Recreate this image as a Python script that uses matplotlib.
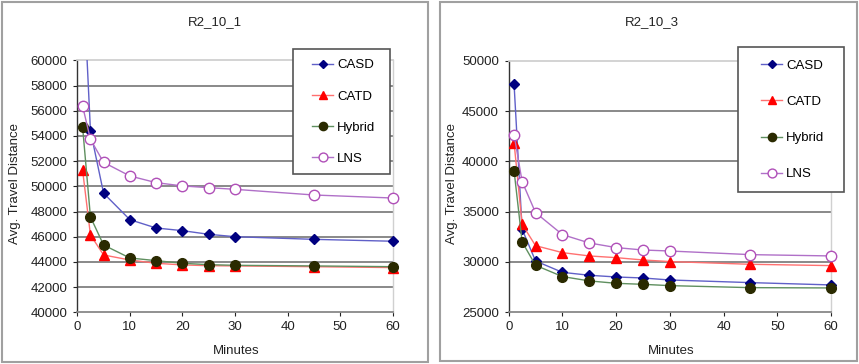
import matplotlib
matplotlib.use("Agg")
import matplotlib.pyplot as plt
from matplotlib.patches import Rectangle

plt.rcParams['font.family'] = ['Liberation Sans', 'DejaVu Sans']

minutes = [1, 2.5, 5, 10, 15, 20, 25, 30, 45, 60]

# R2_10_1
casd_1 = [67600, 54420, 49450, 47350, 46690, 46480, 46190, 46000, 45790, 45640]
catd_1 = [51300, 46140, 44550, 44150, 43890, 43760, 43700, 43680, 43620, 43550]
hybrid_1 = [54740, 47570, 45340, 44310, 44100, 43890, 43780, 43730, 43680, 43620]
lns_1 = [56380, 53730, 51900, 50820, 50290, 50030, 49890, 49760, 49310, 49070]

# R2_10_3
casd_3 = [47650, 33250, 30100, 28970, 28680, 28510, 28410, 28210, 27950, 27720]
catd_3 = [41850, 33740, 31620, 30930, 30600, 30430, 30200, 30040, 29770, 29640]
hybrid_3 = [39070, 31990, 29670, 28550, 28120, 27880, 27780, 27650, 27450, 27420]
lns_3 = [42650, 37980, 34900, 32720, 31890, 31430, 31190, 31090, 30730, 30600]

series_names = ['CASD', 'CATD', 'Hybrid', 'LNS']
titles = ['R2_10_1', 'R2_10_3']
xticks = [0, 10, 20, 30, 40, 50, 60]
yticks_1 = list(range(40000, 60001, 2000))
yticks_3 = list(range(25000, 50001, 5000))

W, H = 859, 364
fig = plt.figure(figsize=(W / 100, H / 100), dpi=100)
fig.patch.set_facecolor('white')

styles = [
    dict(color='#6060c8', marker='D', mfc='#000080', mec='#000080', ms=5.2),
    dict(color='#ff7070', marker='^', mfc='#ff0000', mec='#ff0000', ms=7.5),
    dict(color='#5f8f5f', marker='o', mfc='#2a2a00', mec='#2a2a00', ms=7),
    dict(color='#b070c8', marker='o', mfc='white', mec='#b050b8', ms=7.5, mew=1.0),
]


def fx(px):
    return px / W


def fy(py):
    return 1 - py / H


# panel frames
for (x0, y0, x1, y1) in [(2, 2, 428, 362), (440, 2, 857, 361)]:
    fig.patches.append(Rectangle((fx(x0), fy(y1)), fx(x1 - x0), (y1 - y0) / H,
                                 transform=fig.transFigure, fill=False,
                                 edgecolor='#a0a0a0', lw=1.5, zorder=0))

panels = [
    dict(data=[casd_1, catd_1, hybrid_1, lns_1], yticks=yticks_1, ylim=(40000, 60000),
         box=(77.3, 60.3, 392.7, 312.3), title_xy=(215, 22), ylab_xy=(15, 183),
         xlab_xy=(236, 351), frame=(293, 49, 390, 174), hx=312, cy=112, lspace=1.43),
    dict(data=[casd_3, catd_3, hybrid_3, lns_3], yticks=yticks_3, ylim=(25000, 50000),
         box=(508.7, 60.7, 831.0, 312.3), title_xy=(652, 22), ylab_xy=(452, 183),
         xlab_xy=(671, 351), frame=(738, 47, 844, 192), hx=761, cy=120, lspace=1.81),
]

FS = 9.5
for i, p in enumerate(panels):
    x0, y0, x1, y1 = p['box']
    ax = fig.add_axes([fx(x0), fy(y1), fx(x1 - x0), (y1 - y0) / H])
    ax.set_xlim(0, 60)
    ax.set_ylim(*p['ylim'])
    ax.set_xticks(xticks)
    ax.set_yticks(p['yticks'])
    ax.set_yticklabels([str(v) for v in p['yticks']])
    ax.tick_params(axis='both', labelsize=FS, colors='#222222', direction='out',
                   length=3, width=0.8)
    ax.tick_params(axis='y', pad=4)
    ax.tick_params(axis='x', pad=3)
    for t in p['yticks'][1:-1]:
        ax.axhline(t, color='#808080', lw=1.3, zorder=1)
    ax.spines['top'].set_color('#d0d0d0')
    ax.spines['top'].set_linewidth(1.3)
    ax.spines['right'].set_color('#d0d0d0')
    ax.spines['right'].set_linewidth(1.0)
    ax.spines['left'].set_color('#333333')
    ax.spines['left'].set_linewidth(1.0)
    ax.spines['bottom'].set_color('#888888')
    ax.spines['bottom'].set_linewidth(1.3)
    clip = Rectangle((-0.05, -0.05), 1.1, 1.05, transform=ax.transAxes,
                     visible=False)
    ax.add_patch(clip)
    handles = []
    for vals, st, name in zip(p['data'], styles, series_names):
        h, = ax.plot(minutes, vals, lw=1.0, label=name, zorder=3, **st)
        h.set_clip_path(clip)
        handles.append(h)
    fig.text(fx(p['title_xy'][0]), fy(p['title_xy'][1]), titles[i], ha='center',
             va='center', fontsize=FS, color='#222222')
    fig.text(fx(p['ylab_xy'][0]), fy(p['ylab_xy'][1]), 'Avg. Travel Distance',
             ha='center', va='center', rotation=90, fontsize=FS, color='#222222')
    fig.text(fx(p['xlab_xy'][0]), fy(p['xlab_xy'][1]), 'Minutes', ha='center',
             va='center', fontsize=FS, color='#222222')
    lx0, ly0, lx1, ly1 = p['frame']
    fig.patches.append(Rectangle((fx(lx0), fy(ly1)), fx(lx1 - lx0), (ly1 - ly0) / H,
                                 transform=fig.transFigure, facecolor='white',
                                 edgecolor='#555555', lw=1.2, zorder=4))
    leg = fig.legend(handles=handles, labels=series_names, loc='center left',
                     bbox_to_anchor=(fx(p['hx']), fy(p['cy'])),
                     fontsize=FS, frameon=False, borderaxespad=0, borderpad=0,
                     labelspacing=p['lspace'], handlelength=1.6, handletextpad=0.3,
                     markerscale=0.85)
    leg.set_zorder(6)

fig.savefig('out.png', dpi=100, facecolor='white')
